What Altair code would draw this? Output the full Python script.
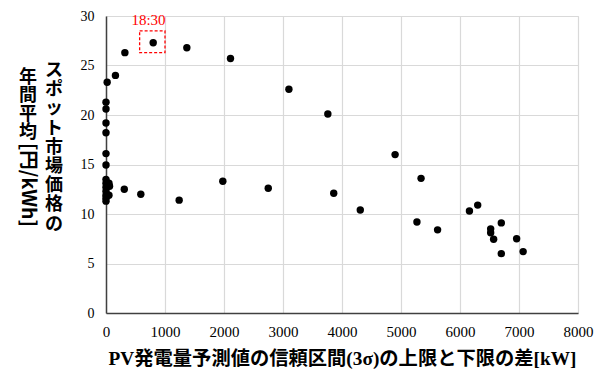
import altair as alt
import pandas as pd

# data
x_kw = [20, 160, 320, 800, 1370, 2110, 3100, 3760,
        0, 0, 0, 0, 0, 0,
        0, 0, 50, 0, 60, 0, 0, 50, 0, 0,
        310, 590, 1240, 1980, 2750, 3860, 4310, 4900,
        5270, 5340, 5620, 6160, 6300, 6520, 6520, 6570,
        6700, 6700, 6960, 7070]
y_price = [23.3, 24.0, 26.3, 27.3, 26.8, 25.7, 22.6, 20.1,
           21.3, 20.6, 19.2, 18.2, 16.1, 14.95,
           13.5, 13.1, 13.1, 12.7, 12.8, 12.3, 11.9, 11.9, 11.6, 11.3,
           12.5, 12.0, 11.4, 13.3, 12.6, 12.1, 10.4, 16.0,
           9.2, 13.6, 8.4, 10.3, 10.9, 8.5, 8.1, 7.45,
           9.1, 6.0, 7.5, 6.2]

note_label = ["18:30"]
note_x = [720]
note_y = [29.55]
box_x = [570]
box_x2 = [1000]
box_y = [26.3]
box_y2 = [28.5]

x_title = "PV発電量予測値の信頼区間(3σ)の上限と下限の差[kW]"
y_title_right = "スポット市場価格の"
y_title_left_upright = "年間平均"
y_title_left_rot = "[円/kWh]"

df = pd.DataFrame({"x": x_kw, "y": y_price})
note_df = pd.DataFrame({"label": note_label, "x": note_x, "y": note_y})
box_df = pd.DataFrame({"x": box_x, "x2": box_x2, "y": box_y, "y2": box_y2})

serif = "'Liberation Serif', 'Times New Roman', 'Noto Sans CJK JP', serif"
sans = "'Noto Sans CJK JP', sans-serif"

xscale = alt.Scale(domain=[0, 8000], nice=False)
yscale = alt.Scale(domain=[0, 30], nice=False)

points = alt.Chart(df).mark_circle(size=55, color="black", opacity=1).encode(
    x=alt.X("x:Q", scale=xscale,
            axis=alt.Axis(title=x_title, values=list(range(0, 8001, 1000)),
                          format="d", labelFont=serif, labelFontSize=15,
                          labelColor="black", labelPadding=11, tickSize=0,
                          titleFont=serif, titleFontSize=19.3, titleFontWeight="bold",
                          titleColor="black", titlePadding=10,
                          domainColor="#404040", domainWidth=1.5,
                          gridColor="#d9d9d9", gridWidth=1.2, labelFlush=False)),
    y=alt.Y("y:Q", scale=yscale,
            axis=alt.Axis(title=None, values=list(range(0, 31, 5)),
                          labelFont=serif, labelFontSize=14, labelColor="black",
                          labelPadding=12, tickSize=0,
                          domainColor="#404040", domainWidth=1.5,
                          gridColor="#d9d9d9", gridWidth=1.2)),
)

box = alt.Chart(box_df).mark_rect(fill=None, stroke="#ff0000", strokeDash=[3, 2],
                                  strokeWidth=1.3).encode(
    x=alt.X("x:Q", scale=xscale), x2="x2:Q",
    y=alt.Y("y:Q", scale=yscale), y2="y2:Q")

note = alt.Chart(note_df).mark_text(color="#ff0000", font=serif, fontSize=15,
                                    baseline="middle", align="center").encode(
    x=alt.X("x:Q", scale=xscale), y=alt.Y("y:Q", scale=yscale), text="label:N")

title_df = pd.DataFrame({"t": [0]})
yt_right = alt.Chart(title_df).mark_text(
    text=list(y_title_right), font=sans, fontWeight="bold",
    fontSize=18, lineHeight=19.2, baseline="top", align="center", color="black"
).encode(x=alt.value(-52), y=alt.value(46))
yt_left = alt.Chart(title_df).mark_text(
    text=list(y_title_left_upright), font=sans, fontWeight="bold",
    fontSize=18, lineHeight=18.4, baseline="top", align="center", color="black"
).encode(x=alt.value(-78), y=alt.value(53))
yt_rot = alt.Chart(title_df).mark_text(
    text=y_title_left_rot, font=sans, fontWeight="bold", fontSize=19.5, angle=90,
    baseline="middle", align="left", color="black"
).encode(x=alt.value(-78), y=alt.value(127))

chart = alt.layer(points, box, note, yt_right, yt_left, yt_rot).properties(
    width=472, height=297,
    autosize=alt.AutoSizeParams(type="none"),
    padding={"left": 98, "top": 8, "right": 20, "bottom": 56},
).configure_view(stroke="#404040", strokeWidth=1.5).configure(background="white")

chart.save("out.html", embed_options={"renderer": "svg", "actions": False})
